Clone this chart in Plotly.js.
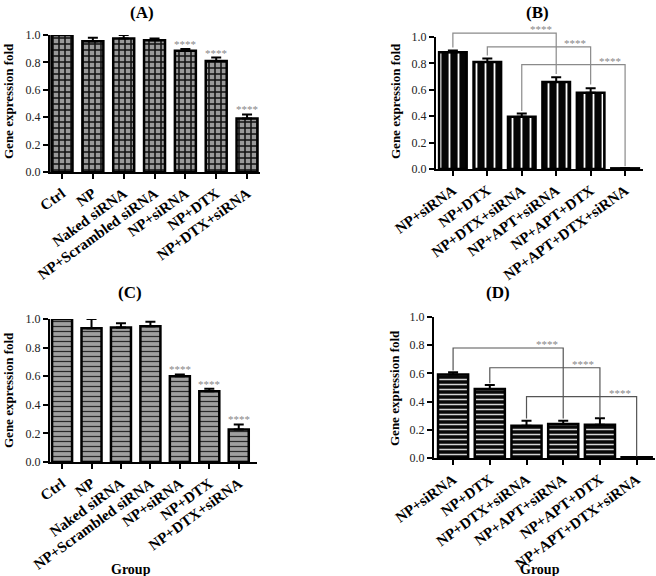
<!DOCTYPE html>
<html>
<head>
<meta charset="utf-8">
<script src="https://cdn.plot.ly/plotly-3.0.1.min.js"></script>
<style>
html,body{margin:0;padding:0;background:#fff;}
#chart{width:656px;height:576px;}
</style>
</head>
<body>
<div id="chart"></div>
<script>
// ---------- data ----------
const catsAC = ['Ctrl', 'NP', 'Naked siRNA', 'NP+Scrambled siRNA', 'NP+siRNA', 'NP+DTX', 'NP+DTX+siRNA'];
const catsBD = ['NP+siRNA', 'NP+DTX', 'NP+DTX+siRNA', 'NP+APT+siRNA', 'NP+APT+DTX', 'NP+APT+DTX+siRNA'];

const valsA = [1.0, 0.955, 0.975, 0.962, 0.885, 0.81, 0.39];
const errA  = [0.0, 0.025, 0.025, 0.012, 0.012, 0.025, 0.03];
const sigA  = ['', '', '', '', '****', '****', '****'];

const valsB = [0.885, 0.81, 0.395, 0.66, 0.578, 0.005];
const errB  = [0.012, 0.028, 0.025, 0.035, 0.033, 0.002];

const valsC = [1.0, 0.935, 0.94, 0.95, 0.60, 0.495, 0.228];
const errC  = [0.0, 0.065, 0.03, 0.03, 0.012, 0.018, 0.035];
const sigC  = ['', '', '', '', '****', '****', '****'];

const valsD = [0.593, 0.49, 0.228, 0.242, 0.235, 0.005];
const errD  = [0.015, 0.028, 0.036, 0.022, 0.047, 0.002];

// significance brackets (category index + value levels)
const brB_left = [0, 1, 2];
const brB_right = [3, 4, 5];
const brB_top = [1.03, 0.925, 0.79];
const brB_leftBottom = [0.92, 0.86, 0.44];
const brB_rightBottom = [0.72, 0.64, 0.02];

const brD_left = [0, 1, 2];
const brD_right = [3, 4, 5];
const brD_top = [0.78, 0.64, 0.435];
const brD_leftBottom = [0.62, 0.53, 0.28];
const brD_rightBottom = [0.28, 0.29, 0.01];

const panelTitles = ['(A)', '(B)', '(C)', '(D)'];
const yTitle = 'Gene expression fold';
const xTitle = 'Group';

// ---------- layout geometry ----------
const W = 656, H = 576;
const FONT = 'Liberation Serif';
const dom = {
  A: {x: [50 / W, 260 / W], y: [1 - 172 / H, 1 - 35 / H], r: [-0.39, 6.42]},
  B: {x: [436 / W, 643 / W], y: [1 - 169 / H, 1 - 37 / H], r: [-0.49, 5.52]},
  C: {x: [50 / W, 257 / W], y: [1 - 462 / H, 1 - 319 / H], r: [-0.41, 6.62]},
  D: {x: [434 / W, 655 / W], y: [1 - 458 / H, 1 - 317 / H], r: [-0.52, 5.5]}
};

function barTrace(cats, vals, errs, xa, ya, width, pattern) {
  return {
    type: 'bar', x: cats, y: vals, xaxis: xa, yaxis: ya, width: width,
    cliponaxis: false, showlegend: false, hoverinfo: 'skip',
    marker: {color: pattern.bgcolor, pattern: pattern, line: {color: '#000', width: 2.5}},
    error_y: {type: 'data', array: errs, arrayminus: errs.map(() => 0), symmetric: false,
              color: '#000', thickness: 2, width: 5}
  };
}

const data = [
  barTrace(catsAC, valsA, errA, 'x', 'y', 0.68,
    {shape: '+', bgcolor: '#9a9a9a', fgcolor: '#111', size: 6, solidity: 0.45}),
  barTrace(catsBD, valsB, errB, 'x2', 'y2', 0.8,
    {shape: '|', bgcolor: '#050505', fgcolor: '#fff', size: 9, solidity: 0.2}),
  barTrace(catsAC, valsC, errC, 'x3', 'y3', 0.68,
    {shape: '-', bgcolor: '#a0a0a0', fgcolor: '#2a2a2a', size: 5, solidity: 0.25}),
  barTrace(catsBD, valsD, errD, 'x4', 'y4', 0.82,
    {shape: '-', bgcolor: '#080808', fgcolor: '#d4d4d4', size: 5, solidity: 0.3})
];

function xAxis(d, anchor) {
  return {
    domain: d.x, anchor: anchor, range: d.r, type: 'category',
    showline: true, linecolor: '#000', linewidth: 2,
    ticks: 'outside', ticklen: 5, tickwidth: 2, tickcolor: '#000',
    tickangle: -36, showgrid: false, zeroline: false, automargin: false,
    tickfont: {family: FONT, size: 15, color: '#000', weight: 700}
  };
}
function yAxis(d, anchor) {
  return {
    domain: d.y, anchor: anchor, range: [0, 1.0], dtick: 0.2, tickformat: '.1f',
    showline: true, linecolor: '#000', linewidth: 2,
    ticks: 'outside', ticklen: 5, tickwidth: 2, tickcolor: '#000',
    showgrid: false, zeroline: false, automargin: false,
    tickfont: {family: FONT, size: 12, color: '#222'}
  };
}

const annotations = [];
const shapes = [];

// panel titles
const titlePos = [[142, 12], [537, 12], [130, 292], [498, 292]];
panelTitles.forEach((t, i) => {
  annotations.push({text: t, xref: 'paper', yref: 'paper', x: titlePos[i][0] / W, y: 1 - titlePos[i][1] / H,
    showarrow: false, xanchor: 'center', yanchor: 'middle', font: {family: FONT, size: 17, color: '#000', weight: 700}});
});
// y titles
const yTitlePos = [[8, 101], [395, 101], [8, 390], [394, 388]];
yTitlePos.forEach(p => {
  annotations.push({text: yTitle, xref: 'paper', yref: 'paper', x: p[0] / W, y: 1 - p[1] / H, textangle: -90,
    showarrow: false, xanchor: 'center', yanchor: 'middle', font: {family: FONT, size: 13, color: '#000', weight: 700}});
});
// x titles
[[131, 569], [540, 569]].forEach(p => {
  annotations.push({text: xTitle, xref: 'paper', yref: 'paper', x: p[0] / W, y: 1 - p[1] / H,
    showarrow: false, xanchor: 'center', yanchor: 'middle', font: {family: FONT, size: 14, color: '#000', weight: 700}});
});

// asterisks over bars (A, C)
function addSig(cats, vals, errs, sig, xa, ya) {
  sig.forEach((s, i) => {
    if (!s) return;
    annotations.push({text: s, x: cats[i], y: vals[i] + errs[i], xref: xa, yref: ya,
      showarrow: false, yanchor: 'bottom', xanchor: 'center', yshift: -3,
      font: {family: FONT, size: 11, color: '#888'}});
  });
}
addSig(catsAC, valsA, errA, sigA, 'x', 'y');
addSig(catsAC, valsC, errC, sigC, 'x3', 'y3');

// brackets (B, D) drawn in domain coordinates so they are not clipped
function addBrackets(d, xa, ya, left, right, top, lb, rb, color) {
  const fx = i => (i - d.r[0]) / (d.r[1] - d.r[0]);
  left.forEach((l, k) => {
    const x0 = fx(l), x1 = fx(right[k]);
    const path = 'M' + x0 + ',' + lb[k] + ' L' + x0 + ',' + top[k] + ' L' + x1 + ',' + top[k] + ' L' + x1 + ',' + rb[k];
    shapes.push({type: 'path', path: path, xref: xa + ' domain', yref: ya + ' domain',
      line: {color: color, width: 1.2}});
    annotations.push({text: '****', xref: xa + ' domain', yref: ya + ' domain',
      x: fx(right[k] - 0.45), y: top[k], showarrow: false, xanchor: 'center', yanchor: 'bottom', yshift: -4,
      font: {family: FONT, size: 11, color: '#888'}});
  });
}
addBrackets(dom.B, 'x2', 'y2', brB_left, brB_right, brB_top, brB_leftBottom, brB_rightBottom, '#8a8a8a');
addBrackets(dom.D, 'x4', 'y4', brD_left, brD_right, brD_top, brD_leftBottom, brD_rightBottom, '#555');

const layout = {
  width: W, height: H, margin: {l: 0, r: 0, t: 0, b: 0},
  font: {family: FONT},
  paper_bgcolor: '#fff', plot_bgcolor: 'rgba(0,0,0,0)',
  showlegend: false, bargap: 0.3,
  xaxis: xAxis(dom.A, 'y'), yaxis: yAxis(dom.A, 'x'),
  xaxis2: xAxis(dom.B, 'y2'), yaxis2: yAxis(dom.B, 'x2'),
  xaxis3: xAxis(dom.C, 'y3'), yaxis3: yAxis(dom.C, 'x3'),
  xaxis4: xAxis(dom.D, 'y4'), yaxis4: yAxis(dom.D, 'x4'),
  annotations: annotations, shapes: shapes
};

Plotly.newPlot('chart', data, layout, {displayModeBar: false});
</script>
</body>
</html>
